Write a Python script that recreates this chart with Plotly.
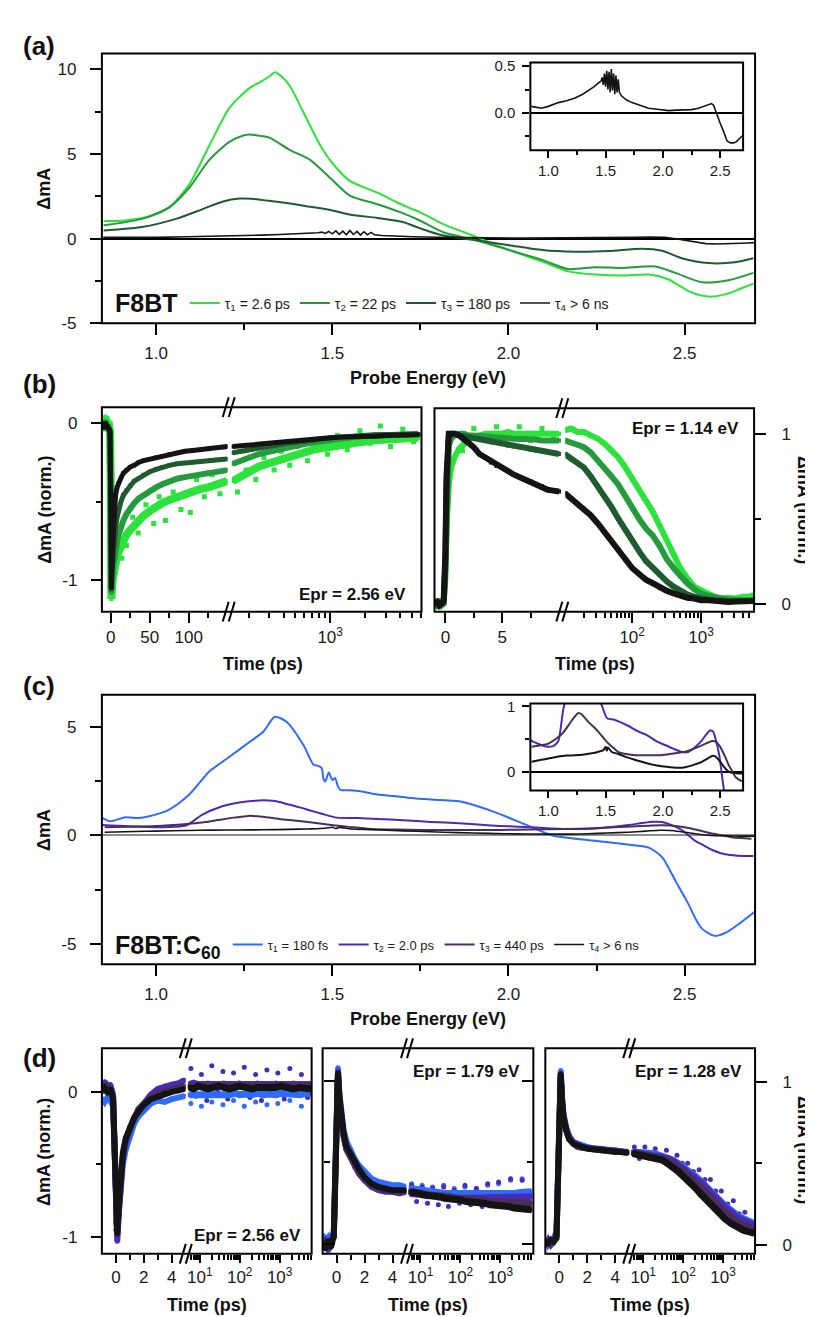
import plotly.graph_objects as go

# ======================= DATA =======================
# (a) F8BT decay-associated spectra (Probe energy eV, dmA)
A_E1 = [0.851, 0.913, 0.98, 1.037, 1.094, 1.151, 1.209, 1.266, 1.30, 1.323, 1.337, 1.36, 1.38, 1.418, 1.466,
        1.504, 1.551, 1.628, 1.685, 1.72, 1.75, 1.813, 1.908, 2.002, 2.096, 2.17, 2.247, 2.323, 2.40, 2.455,
        2.511, 2.545, 2.577, 2.625, 2.66, 2.695]
A_T1 = [1.03, 1.07, 1.3, 1.84, 3.2, 5.5, 7.75, 8.9, 9.3, 9.6, 9.83, 9.5, 9.0, 7.46, 5.5,
        4.36, 3.39, 2.71, 2.13, 1.8, 1.55, 0.87, 0.1, -0.68, -1.36, -1.94, -2.13, -2.19, -2.13, -2.42,
        -3.1, -3.35, -3.43, -3.24, -2.95, -2.66]
A_E2 = [0.851, 0.96, 1.037, 1.094, 1.151, 1.209, 1.25, 1.266, 1.30, 1.323, 1.38, 1.437, 1.494, 1.551, 1.628,
        1.70, 1.75, 1.813, 1.908, 2.002, 2.096, 2.17, 2.247, 2.323, 2.417, 2.474, 2.549, 2.625, 2.695]
A_T2 = [0.78, 1.16, 1.84, 3.0, 4.65, 5.72, 6.1, 6.14, 6.05, 5.95, 5.23, 4.65, 3.58, 2.52, 2.03,
        1.5, 1.05, 0.39, -0.1, -0.68, -1.26, -1.8, -1.69, -1.74, -1.65, -2.03, -2.58, -2.46, -2.03]
A_E3 = [0.851, 0.96, 1.056, 1.132, 1.19, 1.237, 1.27, 1.304, 1.361, 1.437, 1.494, 1.551, 1.628, 1.70, 1.75,
        1.813, 1.908, 2.002, 2.096, 2.19, 2.285, 2.379, 2.436, 2.492, 2.568, 2.643, 2.695]
A_T3 = [0.48, 0.68, 1.16, 1.74, 2.19, 2.36, 2.35, 2.27, 2.13, 1.88, 1.69, 1.41, 1.22, 0.98, 0.6,
        0.19, -0.1, -0.39, -0.68, -0.78, -0.74, -0.6, -0.72, -1.16, -1.45, -1.4, -1.16]
A_E4 = [0.85, 0.94, 1.0, 1.087, 1.16, 1.233, 1.30, 1.35, 1.40, 1.437, 1.46, 1.47, 1.48, 1.49, 1.50, 1.51, 1.52,
        1.53, 1.54, 1.55, 1.56, 1.57, 1.58, 1.59, 1.60, 1.61, 1.62, 1.64, 1.68, 1.73, 1.80, 1.875, 1.95, 2.05,
        2.12, 2.195, 2.25, 2.31, 2.36, 2.40, 2.425, 2.443, 2.47, 2.50, 2.53, 2.56, 2.59, 2.618, 2.64, 2.66,
        2.68, 2.70]
A_T4 = [0.07, 0.05, 0.07, 0.11, 0.13, 0.16, 0.2, 0.24, 0.28, 0.32, 0.34, 0.38, 0.3, 0.42, 0.28, 0.45, 0.25,
        0.44, 0.22, 0.47, 0.24, 0.42, 0.2, 0.4, 0.22, 0.36, 0.22, 0.18, 0.14, 0.11, 0.08, 0.05, 0.04, 0.025,
        0.03, 0.036, 0.035, 0.05, 0.07, 0.09, 0.1, 0.08, 0.0, -0.11, -0.2, -0.3, -0.32, -0.32, -0.31, -0.28,
        -0.26, -0.24]
A_NAMES = ["τ<sub>1</sub> = 2.6 ps", "τ<sub>2</sub> = 22 ps", "τ<sub>3</sub> = 180 ps", "τ<sub>4</sub> > 6 ns"]

# (b) F8BT kinetics, normalised
B_L_TLIN = [-11, -9, -7, -5, -3, -1, 0, 0.3, 0.6, 1, 2, 3, 4, 6, 8, 10, 13, 16, 20, 25, 30, 36, 42, 50, 58,
            66, 75, 85, 95, 105, 115, 125, 135, 145, 149]
B_L_K_LIN = [-0.01, -0.03, 0.0, -0.02, -0.04, -0.05, -0.6, -1.02, -1.05, -0.98, -0.82, -0.68, -0.57, -0.46,
             -0.41, -0.38, -0.35, -0.32, -0.30, -0.28, -0.27, -0.25, -0.24, -0.23, -0.22, -0.21, -0.20, -0.19,
             -0.18, -0.175, -0.17, -0.165, -0.16, -0.155, -0.15]
B_L_G3_LIN = [-0.02, 0.0, -0.03, -0.01, -0.04, -0.06, -0.55, -1.0, -1.06, -1.02, -0.92, -0.84, -0.77, -0.67,
              -0.6, -0.55, -0.5, -0.46, -0.43, -0.40, -0.37, -0.35, -0.33, -0.31, -0.295, -0.28, -0.27, -0.26,
              -0.255, -0.25, -0.245, -0.24, -0.235, -0.23, -0.23]
B_L_G2_LIN = [-0.01, -0.04, 0.01, -0.03, -0.02, -0.07, -0.5, -0.98, -1.08, -1.05, -0.98, -0.92, -0.87, -0.8,
              -0.75, -0.71, -0.66, -0.62, -0.58, -0.54, -0.51, -0.48, -0.46, -0.43, -0.41, -0.39, -0.37,
              -0.355, -0.345, -0.335, -0.325, -0.315, -0.31, -0.30, -0.30]
B_L_G1_LIN = [0.03, -0.01, 0.04, -0.02, 0.01, -0.06, -0.45, -0.95, -1.12, -1.08, -1.02, -0.98, -0.93, -0.88,
              -0.85, -0.82, -0.78, -0.75, -0.71, -0.68, -0.65, -0.62, -0.59, -0.56, -0.53, -0.51, -0.49, -0.47,
              -0.45, -0.43, -0.42, -0.41, -0.39, -0.38, -0.37]
B_L_TLOG = [146, 170, 200, 240, 290, 350, 420, 500, 600, 720, 860, 1000, 1250, 1550, 1900, 2400, 3000, 3700,
            4600, 5700]
B_L_K_LOG = [-0.15, -0.145, -0.14, -0.135, -0.13, -0.125, -0.12, -0.115, -0.11, -0.105, -0.1, -0.095, -0.09,
             -0.09, -0.085, -0.085, -0.08, -0.08, -0.078, -0.075]
B_L_G3_LOG = [-0.19, -0.18, -0.17, -0.16, -0.15, -0.14, -0.13, -0.125, -0.12, -0.11, -0.1, -0.095, -0.09,
              -0.085, -0.08, -0.075, -0.075, -0.07, -0.07, -0.07]
B_L_G2_LOG = [-0.26, -0.24, -0.22, -0.2, -0.185, -0.17, -0.155, -0.145, -0.135, -0.125, -0.115, -0.105, -0.1,
              -0.09, -0.085, -0.08, -0.075, -0.075, -0.07, -0.07]
B_L_G1_LOG = [-0.37, -0.34, -0.31, -0.28, -0.26, -0.24, -0.22, -0.2, -0.19, -0.17, -0.16, -0.15, -0.14, -0.13,
              -0.12, -0.11, -0.105, -0.1, -0.1, -0.095]
# scattered (noisy) light-green points around the fastest trace
B_L_G1S_TLIN = [8, 14, 20, 28, 35, 45, 55, 62, 70, 80, 90, 102, 110, 120, 130, 140]
B_L_G1S_LIN = [-0.74, -0.86, -0.78, -0.6, -0.7, -0.52, -0.64, -0.47, -0.62, -0.44, -0.55, -0.57, -0.36,
               -0.47, -0.33, -0.45]
B_L_G1S_TLOG = [160, 190, 230, 270, 330, 380, 450, 520, 640, 800, 950, 1150, 1400, 1800, 2200, 2700, 3300,
                4200, 5200]
B_L_G1S_LOG = [-0.44, -0.3, -0.36, -0.22, -0.3, -0.18, -0.27, -0.15, -0.24, -0.12, -0.2, -0.08, -0.17, -0.05,
               -0.13, -0.02, -0.15, -0.04, -0.12]

B_R_TLIN = [-0.9, -0.7, -0.5, -0.3, -0.15, 0, 0.1, 0.2, 0.3, 0.5, 0.8, 1.2, 1.6, 2, 2.5, 3, 3.5, 4, 4.5, 5,
            5.5, 6, 6.5, 7, 7.5, 8, 8.5, 9, 9.5, 10]
B_R_K_LIN = [0.0, 0.01, -0.01, 0.0, 0.02, 0.3, 0.75, 0.95, 1.0, 1.0, 1.0, 0.99, 0.97, 0.95, 0.92, 0.88, 0.86,
             0.83, 0.81, 0.8, 0.78, 0.76, 0.745, 0.73, 0.72, 0.70, 0.69, 0.67, 0.665, 0.66]
B_R_G3_LIN = [0.01, -0.01, 0.0, 0.01, 0.0, 0.25, 0.7, 0.92, 0.98, 1.0, 1.0, 0.99, 0.985, 0.98, 0.97, 0.965,
              0.96, 0.95, 0.945, 0.94, 0.93, 0.925, 0.92, 0.915, 0.905, 0.9, 0.895, 0.89, 0.885, 0.88]
B_R_G2_LIN = [0.0, 0.02, -0.01, 0.0, 0.01, 0.2, 0.6, 0.85, 0.93, 0.97, 0.99, 1.0, 1.0, 0.99, 0.99, 0.985,
              0.985, 0.98, 0.98, 0.975, 0.975, 0.97, 0.97, 0.97, 0.965, 0.965, 0.96, 0.96, 0.96, 0.96]
B_R_G1_LIN = [0.01, 0.0, 0.02, -0.01, 0.0, 0.15, 0.45, 0.62, 0.7, 0.8, 0.86, 0.91, 0.94, 0.96, 0.98, 0.99,
              1.0, 1.0, 1.0, 1.0, 1.01, 1.0, 1.0, 1.0, 1.0, 1.0, 1.0, 1.0, 1.0, 1.0]
B_R_TLOG = [10.5, 13, 16, 20, 25, 32, 40, 50, 63, 80, 100, 130, 160, 200, 250, 320, 400, 500, 630, 800, 1000,
            1300, 1600, 2000, 2500, 3200, 4000, 5000, 5800]
B_R_K_LOG = [0.65, 0.62, 0.59, 0.56, 0.52, 0.47, 0.42, 0.37, 0.32, 0.26, 0.21, 0.17, 0.14, 0.12, 0.095,
             0.075, 0.06, 0.045, 0.035, 0.03, 0.02, 0.02, 0.015, 0.01, 0.01, 0.012, 0.014, 0.014, 0.015]
B_R_G3_LOG = [0.88, 0.85, 0.83, 0.80, 0.75, 0.69, 0.63, 0.57, 0.5, 0.43, 0.37, 0.3, 0.25, 0.21, 0.17, 0.13,
              0.1, 0.075, 0.055, 0.04, 0.03, 0.025, 0.02, 0.015, 0.015, 0.015, 0.015, 0.015, 0.015]
B_R_G2_LOG = [0.96, 0.95, 0.935, 0.92, 0.89, 0.84, 0.8, 0.75, 0.7, 0.63, 0.56, 0.49, 0.44, 0.4, 0.34, 0.26,
              0.21, 0.16, 0.12, 0.085, 0.06, 0.045, 0.035, 0.03, 0.025, 0.02, 0.02, 0.02, 0.02]
B_R_G1_LOG = [1.02, 1.03, 1.01, 1.01, 0.99, 0.97, 0.94, 0.9, 0.86, 0.8, 0.74, 0.66, 0.6, 0.54, 0.46, 0.37,
              0.29, 0.21, 0.15, 0.1, 0.08, 0.055, 0.04, 0.03, 0.035, 0.03, 0.04, 0.04, 0.05]
B_R_G1S_T = [1.5, 2.5, 3.5, 4.5, 5.5, 6.5, 7.5, 8.5, 9.5]
B_R_G1S = [0.9, 1.03, 0.96, 1.04, 0.97, 1.04, 0.96, 1.03, 0.97]

# (c) F8BT:C60 decay-associated spectra
C_E1 = [0.847, 0.87, 0.913, 0.95, 0.98, 1.037, 1.094, 1.151, 1.209, 1.266, 1.304, 1.337, 1.37, 1.418, 1.447,
        1.46, 1.47, 1.475, 1.48, 1.49, 1.5, 1.508, 1.515, 1.523, 1.55, 1.58, 1.628, 1.68, 1.723, 1.78, 1.86,
        1.955, 2.049, 2.125, 2.238, 2.332, 2.398, 2.436, 2.474, 2.511, 2.53, 2.55, 2.585, 2.62, 2.66, 2.70]
C_T1 = [0.81, 0.65, 0.84, 0.8, 0.88, 1.19, 1.88, 2.94, 3.63, 4.31, 4.77, 5.46, 5.23, 4.16, 3.25,
        3.2, 3.09, 2.6, 2.48, 2.9, 2.55, 2.64, 2.3, 2.1, 2.08, 2.03, 1.88, 1.8, 1.72, 1.65, 1.57,
        1.11, 0.5, 0.0, -0.23, -0.41, -0.56, -1.0, -2.09, -3.16, -3.8, -4.3, -4.62, -4.45, -4.0, -3.5]
C_E2 = [0.847, 0.92, 1.0, 1.05, 1.087, 1.13, 1.18, 1.228, 1.27, 1.304, 1.337, 1.37, 1.41, 1.437, 1.47, 1.513,
        1.57, 1.628, 1.70, 1.78, 1.86, 1.95, 2.002, 2.08, 2.166, 2.22, 2.285, 2.34, 2.379, 2.41, 2.436, 2.46,
        2.492, 2.53, 2.549, 2.58, 2.615, 2.65, 2.695]
C_T2 = [0.48, 0.42, 0.38, 0.4, 0.47, 0.95, 1.3, 1.49, 1.58, 1.62, 1.58, 1.45, 1.28, 1.15, 1.0, 0.82,
        0.8, 0.76, 0.7, 0.62, 0.56, 0.46, 0.42, 0.36, 0.30, 0.3, 0.38, 0.48, 0.57, 0.63, 0.62, 0.5,
        0.25, -0.25, -0.41, -0.68, -0.87, -0.93, -0.95]
C_E3 = [0.854, 0.92, 1.0, 1.087, 1.13, 1.175, 1.22, 1.262, 1.29, 1.35, 1.40, 1.437, 1.48, 1.525, 1.57, 1.612,
        1.68, 1.758, 1.85, 1.933, 2.02, 2.108, 2.2, 2.283, 2.35, 2.40, 2.43, 2.46, 2.50, 2.54, 2.574, 2.60,
        2.633, 2.66, 2.69]
C_T3 = [0.38, 0.4, 0.43, 0.53, 0.6, 0.71, 0.82, 0.9, 0.88, 0.76, 0.68, 0.61, 0.52, 0.43, 0.36, 0.30,
        0.27, 0.25, 0.25, 0.25, 0.26, 0.28, 0.31, 0.36, 0.41, 0.45, 0.47, 0.46, 0.38, 0.24, 0.10, 0.02,
        -0.08, -0.12, -0.15]
C_E4 = [0.854, 0.94, 1.0, 1.087, 1.16, 1.233, 1.30, 1.379, 1.43, 1.48, 1.50, 1.51, 1.52, 1.554, 1.61, 1.67,
        1.74, 1.816, 1.9, 1.99, 2.05, 2.108, 2.17, 2.225, 2.28, 2.34, 2.39, 2.43, 2.46, 2.487, 2.53, 2.574,
        2.62, 2.66, 2.70]
C_T4 = [0.15, 0.18, 0.2, 0.23, 0.245, 0.25, 0.26, 0.28, 0.3, 0.33, 0.38, 0.32, 0.37, 0.30, 0.27, 0.23,
        0.19, 0.15, 0.11, 0.08, 0.07, 0.06, 0.06, 0.08, 0.11, 0.15, 0.2, 0.24, 0.23, 0.18, 0.08, 0.0,
        -0.02, -0.03, -0.03]
C_NAMES = ["τ<sub>1</sub> = 180 fs", "τ<sub>2</sub> = 2.0 ps", "τ<sub>3</sub> = 440 ps", "τ<sub>4</sub> > 6 ns"]

# (d) F8BT:C60 kinetics, normalised
D_TLIN = [-0.95, -0.8, -0.6, -0.4, -0.2, -0.1, 0, 0.1, 0.2, 0.3, 0.5, 0.7, 1.0, 1.3, 1.6, 2.0, 2.5, 3.0, 3.5,
          4.0, 4.5, 4.9]
D_TLOG = [5.5, 7, 9, 12, 16, 22, 30, 40, 55, 75, 100, 140, 200, 280, 400, 560, 800, 1100, 1600, 2200, 3200,
          4500, 6000]
D_TSCAT = [6, 8, 11, 15, 20, 28, 38, 50, 70, 95, 130, 180, 250, 350, 480, 650, 900, 1300, 1800, 2500, 3500,
           5000]
# Epr = 2.56 eV
D1_BL_LIN = [-0.05, -0.07, -0.04, -0.06, -0.1, -0.5, -0.92, -0.98, -0.84, -0.7, -0.5, -0.4, -0.3, -0.22,
             -0.17, -0.13, -0.08, -0.06, -0.07, -0.05, -0.04, -0.03]
D1_VI_LIN = [0.04, 0.07, 0.03, 0.05, -0.02, -0.45, -0.95, -1.03, -0.85, -0.66, -0.45, -0.35, -0.25, -0.19,
             -0.12, -0.08, -0.02, 0.02, 0.04, 0.05, 0.06, 0.08]
D1_PU_LIN = [0.03, 0.0, 0.05, 0.02, -0.03, -0.42, -0.88, -0.96, -0.8, -0.64, -0.44, -0.34, -0.25, -0.18,
             -0.13, -0.09, -0.04, -0.01, 0.01, 0.02, 0.03, 0.04]
D1_K_LIN = [0.02, 0.03, 0.0, 0.02, -0.05, -0.4, -0.9, -0.98, -0.8, -0.63, -0.42, -0.32, -0.24, -0.18, -0.14,
            -0.09, -0.05, -0.03, -0.01, 0.0, 0.01, 0.02]
D1_BL_LOG = [-0.02, -0.02, -0.025, -0.02, -0.015, -0.02, -0.02, -0.015, -0.02, -0.01, -0.02, -0.015, -0.02,
             -0.01, -0.02, -0.015, -0.02, -0.01, -0.015, -0.01, -0.02, -0.01, -0.01]
D1_VI_LOG = [0.05, 0.06, 0.05, 0.05, 0.06, 0.05, 0.05, 0.06, 0.05, 0.05, 0.06, 0.05, 0.05, 0.06, 0.05, 0.05,
             0.06, 0.05, 0.05, 0.06, 0.05, 0.05, 0.05]
D1_PU_LOG = [0.04, 0.04, 0.045, 0.04, 0.045, 0.04, 0.045, 0.04, 0.04, 0.04, 0.045, 0.04, 0.04, 0.04, 0.045,
             0.04, 0.04, 0.04, 0.045, 0.04, 0.04, 0.04, 0.04]
D1_K_LOG = [0.03, 0.02, 0.04, 0.03, 0.02, 0.03, 0.04, 0.03, 0.02, 0.03, 0.04, 0.03, 0.02, 0.03, 0.03, 0.02,
            0.03, 0.04, 0.03, 0.02, 0.03, 0.03, 0.02]
D1_VI_SCAT = [0.16, -0.03, 0.12, -0.06, 0.18, 0.0, 0.14, -0.05, 0.13, -0.02, 0.17, -0.04, 0.12, -0.06, 0.15,
              0.0, 0.13, -0.05, 0.16, -0.02, 0.12, -0.04]
D1_BL_SCAT = [-0.08, 0.04, -0.1, 0.02, -0.07, 0.05, -0.09, 0.03, -0.06, 0.06, -0.1, 0.02, -0.07, 0.04, -0.09,
              0.05, -0.08, 0.03, -0.06, 0.04, -0.1, 0.02]
# Epr = 1.79 eV
D2_BL_LIN = [0.05, 0.02, 0.04, 0.0, 0.08, 0.45, 1.0, 1.08, 0.92, 0.82, 0.7, 0.63, 0.57, 0.52, 0.48, 0.44,
             0.4, 0.38, 0.37, 0.36, 0.36, 0.35]
D2_VI_LIN = [-0.02, 0.03, -0.04, 0.02, 0.06, 0.42, 0.98, 1.06, 0.9, 0.78, 0.66, 0.58, 0.53, 0.47, 0.43,
             0.39, 0.35, 0.33, 0.32, 0.32, 0.31, 0.32]
D2_PU_LIN = [0.02, -0.01, 0.01, 0.03, 0.04, 0.35, 0.92, 1.02, 0.88, 0.78, 0.66, 0.58, 0.53, 0.48, 0.44,
             0.4, 0.36, 0.34, 0.33, 0.32, 0.32, 0.32]
D2_K_LIN = [0.0, -0.03, 0.02, -0.02, 0.05, 0.4, 0.95, 1.05, 0.9, 0.8, 0.68, 0.6, 0.55, 0.5, 0.46, 0.41,
            0.37, 0.35, 0.34, 0.33, 0.33, 0.33]
D2_BL_LOG = [0.34, 0.335, 0.33, 0.325, 0.32, 0.315, 0.315, 0.31, 0.31, 0.305, 0.305, 0.3, 0.3, 0.3, 0.3,
             0.3, 0.305, 0.305, 0.31, 0.31, 0.315, 0.315, 0.32]
D2_VI_LOG = [0.31, 0.31, 0.305, 0.3, 0.3, 0.295, 0.29, 0.29, 0.285, 0.285, 0.28, 0.28, 0.28, 0.28, 0.28, 0.28,
             0.285, 0.285, 0.29, 0.29, 0.29, 0.29, 0.29]
D2_PU_LOG = [0.32, 0.32, 0.31, 0.31, 0.3, 0.3, 0.29, 0.29, 0.29, 0.28, 0.28, 0.28, 0.27, 0.27, 0.27, 0.26,
             0.26, 0.26, 0.26, 0.25, 0.25, 0.25, 0.25]
D2_K_LOG = [0.32, 0.31, 0.31, 0.3, 0.3, 0.29, 0.29, 0.28, 0.28, 0.27, 0.27, 0.26, 0.26, 0.25, 0.25, 0.24,
            0.24, 0.23, 0.23, 0.22, 0.22, 0.21, 0.21]
D2_VI_SCAT = [0.36, 0.26, 0.35, 0.25, 0.34, 0.24, 0.35, 0.23, 0.33, 0.25, 0.36, 0.24, 0.34, 0.23, 0.37, 0.25,
              0.38, 0.24, 0.4, 0.25, 0.39, 0.27]
D2_BL_SCAT = [0.37, 0.3, 0.36, 0.29, 0.35, 0.28, 0.36, 0.28, 0.34, 0.29, 0.35, 0.28, 0.34, 0.27, 0.36, 0.28,
              0.37, 0.29, 0.39, 0.3, 0.4, 0.3]
# Epr = 1.28 eV
D3_BL_LIN = [0.03, 0.0, 0.02, 0.04, 0.08, 0.5, 1.0, 1.07, 0.9, 0.8, 0.72, 0.67, 0.63, 0.62, 0.61, 0.6, 0.59,
             0.59, 0.58, 0.58, 0.57, 0.57]
D3_VI_LIN = [0.01, 0.03, 0.0, 0.02, 0.06, 0.45, 0.97, 1.05, 0.89, 0.79, 0.71, 0.66, 0.63, 0.61, 0.6, 0.595,
             0.59, 0.585, 0.58, 0.575, 0.575, 0.57]
D3_PU_LIN = [0.0, 0.02, 0.01, 0.03, 0.04, 0.38, 0.93, 1.03, 0.87, 0.78, 0.7, 0.65, 0.62, 0.6, 0.595, 0.59,
             0.585, 0.58, 0.575, 0.57, 0.57, 0.565]
D3_K_LIN = [0.02, 0.01, 0.03, 0.02, 0.05, 0.4, 0.95, 1.05, 0.88, 0.78, 0.7, 0.65, 0.62, 0.61, 0.6, 0.59,
            0.585, 0.58, 0.575, 0.57, 0.57, 0.565]
D3_BL_LOG = [0.57, 0.57, 0.565, 0.56, 0.56, 0.555, 0.545, 0.535, 0.52, 0.5, 0.48, 0.455, 0.42, 0.39, 0.35,
             0.31, 0.27, 0.24, 0.21, 0.18, 0.16, 0.14, 0.13]
D3_VI_LOG = [0.57, 0.565, 0.56, 0.56, 0.555, 0.55, 0.54, 0.53, 0.515, 0.49, 0.47, 0.44, 0.41, 0.38, 0.34,
             0.3, 0.26, 0.23, 0.2, 0.17, 0.15, 0.13, 0.12]
D3_PU_LOG = [0.565, 0.56, 0.555, 0.55, 0.545, 0.54, 0.53, 0.515, 0.5, 0.475, 0.45, 0.42, 0.39, 0.35, 0.31,
             0.27, 0.23, 0.2, 0.17, 0.14, 0.12, 0.11, 0.1]
D3_K_LOG = [0.56, 0.555, 0.55, 0.545, 0.54, 0.53, 0.52, 0.5, 0.48, 0.45, 0.42, 0.39, 0.35, 0.31, 0.27, 0.23,
            0.19, 0.16, 0.13, 0.11, 0.09, 0.08, 0.07]
D3_VI_SCAT = [0.6, 0.53, 0.6, 0.53, 0.59, 0.52, 0.58, 0.51, 0.55, 0.5, 0.5, 0.45, 0.46, 0.4, 0.4, 0.33, 0.33,
              0.25, 0.27, 0.19, 0.2, 0.14]

# ======================= STYLE / LAYOUT =======================
W, H = 813, 1317
FONT = "Liberation Sans, Arial, sans-serif"


def fx(p):
    return p / W


def fy(p):
    return 1 - p / H


G1, G2, G3, K = "#2BE33A", "#249B3D", "#1F5B2F", "#141414"
BL, VI, PU = "#2F6BFF", "#4A2BB5", "#4B2E5C"

fig = go.Figure()


def spec(x, y, color, xa, ya, width=2, name=None, legend=None, show=False, smooth=True):
    fig.add_trace(go.Scatter(x=x, y=y, mode="lines",
                             line=dict(color=color, width=width, shape="spline" if smooth else "linear",
                                       smoothing=0.7),
                             xaxis=xa, yaxis=ya, name=name, legend=legend, showlegend=show,
                             hoverinfo="skip"))


def kin(x, y, color, xa, ya, sym="square", lw=4, ms=4):
    fig.add_trace(go.Scatter(x=x, y=y, mode="lines+markers", line=dict(color=color, width=lw),
                             marker=dict(color=color, size=ms, symbol=sym, line=dict(width=0)),
                             xaxis=xa, yaxis=ya, showlegend=False, hoverinfo="skip"))


def dots(x, y, color, xa, ya, sym="square", ms=4):
    fig.add_trace(go.Scatter(x=x, y=y, mode="markers",
                             marker=dict(color=color, size=ms, symbol=sym, line=dict(width=0)),
                             xaxis=xa, yaxis=ya, showlegend=False, hoverinfo="skip"))


# (a)
for e, v, c, n in zip([A_E1, A_E2, A_E3, A_E4], [A_T1, A_T2, A_T3, A_T4], [G1, G2, G3, K], A_NAMES):
    spec(e, v, c, "x", "y", width=2 if c != K else 1.6, name=n, legend="legend", show=True, smooth=(c != K))
spec(A_E4, A_T4, K, "x2", "y2", width=1.6, smooth=False)

# (b)
dots(B_L_G1S_TLIN, B_L_G1S_LIN, G1, "x3", "y3", ms=5)
dots(B_L_G1S_TLOG, B_L_G1S_LOG, G1, "x4", "y3", ms=5)
for tl, vl, tg, vg, c, w in [
    (B_L_TLIN, B_L_G1_LIN, B_L_TLOG, B_L_G1_LOG, G1, 8),
    (B_L_TLIN, B_L_G2_LIN, B_L_TLOG, B_L_G2_LOG, G2, 6),
    (B_L_TLIN, B_L_G3_LIN, B_L_TLOG, B_L_G3_LOG, G3, 5),
    (B_L_TLIN, B_L_K_LIN, B_L_TLOG, B_L_K_LOG, K, 5),
]:
    kin(tl, vl, c, "x3", "y3", lw=w)
    kin(tg, vg, c, "x4", "y3", lw=w)
dots(B_R_G1S_T, B_R_G1S, G1, "x5", "y4", ms=5)
for tl, vl, tg, vg, c in [
    (B_R_TLIN, B_R_G1_LIN, B_R_TLOG, B_R_G1_LOG, G1),
    (B_R_TLIN, B_R_G2_LIN, B_R_TLOG, B_R_G2_LOG, G2),
    (B_R_TLIN, B_R_G3_LIN, B_R_TLOG, B_R_G3_LOG, G3),
    (B_R_TLIN, B_R_K_LIN, B_R_TLOG, B_R_K_LOG, K),
]:
    kin(tl, vl, c, "x5", "y4", lw=6)
    kin(tg, vg, c, "x6", "y4", lw=6)

# (c)
for e, v, c, n in zip([C_E1, C_E2, C_E3, C_E4], [C_T1, C_T2, C_T3, C_T4], [BL, VI, PU, K], C_NAMES):
    spec(e, v, c, "x7", "y5", width=2 if c != K else 1.6, name=n, legend="legend2", show=True)
for e, v, c in zip([C_E2, C_E3, C_E4], [C_T2, C_T3, C_T4], [VI, PU, K]):
    spec(e, v, c, "x8", "y6", width=2)

# (d)
dots(D_TSCAT, D1_BL_SCAT, BL, "x10", "y7", sym="circle", ms=5)
dots(D_TSCAT, D1_VI_SCAT, VI, "x10", "y7", sym="circle", ms=5)
dots(D_TSCAT, D2_BL_SCAT, BL, "x12", "y8", sym="circle", ms=5)
dots(D_TSCAT, D2_VI_SCAT, VI, "x12", "y8", sym="circle", ms=5)
dots(D_TSCAT, D3_VI_SCAT, VI, "x14", "y10", sym="circle", ms=5)
D_SETS = [
    ("x9", "x10", "y7", [(D1_BL_LIN, D1_BL_LOG, BL), (D1_VI_LIN, D1_VI_LOG, VI), (D1_PU_LIN, D1_PU_LOG, PU),
                         (D1_K_LIN, D1_K_LOG, K)]),
    ("x11", "x12", "y8", [(D2_BL_LIN, D2_BL_LOG, BL), (D2_VI_LIN, D2_VI_LOG, VI), (D2_PU_LIN, D2_PU_LOG, PU),
                          (D2_K_LIN, D2_K_LOG, K)]),
    ("x13", "x14", "y10", [(D3_BL_LIN, D3_BL_LOG, BL), (D3_VI_LIN, D3_VI_LOG, VI),
                           (D3_PU_LIN, D3_PU_LOG, PU), (D3_K_LIN, D3_K_LOG, K)]),
]
for xl, xg, ya, series in D_SETS:
    for vl, vg, c in series:
        kin(D_TLIN, vl, c, xl, ya, sym="circle", lw=6, ms=5)
        kin(D_TLOG, vg, c, xg, ya, sym="circle", lw=7, ms=5)
# empty trace so that the mirrored right-hand tick axis of middle (d) panel is drawn
fig.add_trace(go.Scatter(x=[], y=[], xaxis="x11", yaxis="y9", showlegend=False, hoverinfo="skip"))

TICKF = dict(family=FONT, size=17, color="#1a1a1a")
INF = dict(family=FONT, size=15, color="#1a1a1a")


def axis(domain, rng, anchor, vals=None, text=None, minor=None, typ="linear", ticks="outside", tlen=11,
         mlen=6, font=TICKF, **kw):
    d = dict(domain=domain, range=rng, anchor=anchor, type=typ, showgrid=False, zeroline=False,
             showline=False, ticks=ticks, ticklen=tlen, tickwidth=1.5, tickcolor="black", tickfont=font,
             tickmode="array", tickvals=vals or [], ticktext=text or [], fixedrange=True)
    if minor:
        d["minor"] = dict(tickmode="array", tickvals=minor, ticks=ticks, ticklen=mlen, tickwidth=1.5,
                          tickcolor="black")
    d.update(kw)
    return d


EV = [1.0, 1.5, 2.0, 2.5]
EVT = ["1.0", "1.5", "2.0", "2.5"]
EVM = [1.25, 1.75, 2.25]
LOGMIN_B = [200, 300, 400, 500, 600, 700, 800, 900, 2000, 3000, 4000, 5000, 6000]
LOGMIN_BR = [20, 30, 40, 50, 60, 70, 80, 90, 200, 300, 400, 500, 600, 700, 800, 900, 2000, 3000, 4000, 5000]
LOGMIN_D = [6, 7, 8, 9, 20, 30, 40, 50, 60, 70, 80, 90, 200, 300, 400, 500, 600, 700, 800, 900, 2000, 3000,
            4000, 5000, 6000]
SUP = ["10<sup>1</sup>", "10<sup>2</sup>", "10<sup>3</sup>"]

lay = dict(width=W, height=H, margin=dict(l=0, r=0, t=0, b=0), paper_bgcolor="white",
           plot_bgcolor="rgba(0,0,0,0)", font=dict(family=FONT, size=16, color="#1a1a1a"))

YSO = 10   # left y tick-label standoff
# (a)
lay["xaxis"] = axis([fx(93), fx(747)], [0.846, 2.70], "y", EV, EVT, EVM, ticklabelstandoff=3)
lay["yaxis"] = axis([fy(313), fy(40)], [-5, 10.93], "x", [-5, 0, 5, 10], ["-5", "0", "5", "10"],
                    [-2.5, 2.5, 7.5], zeroline=True, zerolinecolor="black", zerolinewidth=2,
                    ticklabelstandoff=YSO)
lay["xaxis2"] = axis([fx(522), fx(735)], [0.843, 2.70], "y2", EV, EVT, EVM, tlen=7, mlen=4, font=INF)
lay["yaxis2"] = axis([fy(138), fy(49)], [-0.40, 0.54], "x2", [0, 0.5], ["0.0", "0.5"], [-0.25, 0.25],
                     tlen=7, mlen=4, font=INF, zeroline=True, zerolinecolor="black", zerolinewidth=1.5,
                     ticklabelstandoff=4)
# (b)
lay["xaxis3"] = axis([fx(93), fx(219)], [-11.5, 150], "y3", [0, 50, 100], ["0", "50", "100"],
                     [25, 75, 125], tlen=10, mlen=5)
lay["xaxis4"] = axis([fx(223), fx(413)], [2.155, 3.784], "y3", [1000], ["10<sup>3</sup>"], LOGMIN_B,
                     typ="log", tlen=10, mlen=5)
lay["yaxis3"] = axis([fy(605), fy(398)], [-1.2, 0.1], "free", [-1, 0], ["-1", "0"], [-0.5],
                     position=fx(93), ticklabelstandoff=YSO)
lay["xaxis5"] = axis([fx(426), fx(553)], [-0.96, 10.2], "y4", [0, 5], ["0", "5"], [2.5, 7.5], tlen=10,
                     mlen=5)
lay["xaxis6"] = axis([fx(557), fx(746)], [1.03, 3.77], "y4", [100, 1000], SUP[1:], LOGMIN_BR, typ="log",
                     tlen=10, mlen=5)
lay["yaxis4"] = axis([fy(605), fy(399)], [-0.047, 1.15], "free", [0, 1], ["0", "1"], [0.5], side="right",
                     position=fx(746), ticklabelstandoff=12)
# (c)
lay["xaxis7"] = axis([fx(93), fx(747)], [0.846, 2.70], "y5", EV, EVT, EVM, ticklabelstandoff=3)
lay["yaxis5"] = axis([fy(962), fy(689)], [-5.93, 6.48], "x7", [-5, 0, 5], ["-5", "0", "5"], [-2.5, 2.5],
                     zeroline=True, zerolinecolor="#8c8c8c", zerolinewidth=1.5, ticklabelstandoff=YSO)
lay["xaxis8"] = axis([fx(522), fx(735)], [0.843, 2.70], "y6", EV, EVT, EVM, tlen=7, mlen=4, font=INF)
lay["yaxis6"] = axis([fy(786), fy(698)], [-0.29, 1.045], "x8", [0, 1], ["0", "1"], [0.5], tlen=7, mlen=4,
                     font=INF, zeroline=True, zerolinecolor="black", zerolinewidth=1.5, ticklabelstandoff=4)
# (d)
for i, L in enumerate([93, 314, 537]):
    ya = ["y7", "y8", "y10"][i]
    lay["xaxis%d" % (9 + 2 * i)] = axis([fx(L), fx(L + 84)], [-1.0, 5.0], ya, [0, 2, 4], ["0", "2", "4"],
                                        [1, 3], tlen=8, mlen=5)
    lay["xaxis%d" % (10 + 2 * i)] = axis([fx(L + 86), fx(L + 210)], [0.7, 3.8], ya, [10, 100, 1000], SUP,
                                         LOGMIN_D, typ="log", tlen=8, mlen=5)
DDOM = [fy(1255), fy(1047)]
lay["yaxis7"] = axis(DDOM, [-1.116, 0.30], "free", [-1, 0], ["-1", "0"], [-0.5], position=fx(93),
                     ticklabelstandoff=YSO)
lay["yaxis8"] = axis(DDOM, [-0.06, 1.2], "free", [0, 1], ["", ""], [0.5], position=fx(314), ticks="inside",
                     showticklabels=False)
lay["yaxis9"] = axis(DDOM, [-0.06, 1.2], "free", [0, 1], ["", ""], [0.5], position=fx(525), ticks="inside",
                     showticklabels=False, side="right", overlaying="y8")
lay["yaxis10"] = axis(DDOM, [-0.055, 1.206], "free", [0, 1], ["0", "1"], [0.5], side="right",
                      position=fx(747), ticklabelstandoff=12)

# legends
lay["legend"] = dict(orientation="h", x=fx(176), y=fy(293), xanchor="left", yanchor="middle",
                     bgcolor="rgba(0,0,0,0)", font=dict(family=FONT, size=14, color="#1a1a1a"),
                     itemwidth=30, tracegroupgap=0)
lay["legend2"] = dict(orientation="h", x=fx(219), y=fy(942), xanchor="left", yanchor="middle",
                      bgcolor="rgba(0,0,0,0)", font=dict(family=FONT, size=13, color="#1a1a1a"),
                      itemwidth=30, tracegroupgap=0)

# frames and axis-break marks
shapes = []
for (x0, y0, x1, y1) in [(93, 40, 747, 313), (522, 49, 735, 138), (93, 398, 413, 605), (426, 399, 746, 605),
                         (93, 689, 747, 962), (522, 698, 735, 786), (93, 1047, 303, 1255),
                         (314, 1047, 525, 1255), (537, 1047, 747, 1255)]:
    shapes.append(dict(type="rect", xref="paper", yref="paper", x0=fx(x0), x1=fx(x1), y0=fy(y0), y1=fy(y1),
                       line=dict(color="black", width=2), fillcolor="rgba(0,0,0,0)", layer="above"))
for cx, ys in [(221, (398, 605)), (555, (399, 605)), (178, (1047, 1255)), (399.5, (1047, 1255)),
               (622, (1047, 1255))]:
    for yy in ys:
        for dx in (-4, 2):
            shapes.append(dict(type="line", xref="paper", yref="paper", x0=fx(cx + dx - 3), y0=fy(yy + 10),
                               x1=fx(cx + dx + 3), y1=fy(yy - 10), line=dict(color="black", width=2),
                               layer="above"))
lay["shapes"] = shapes

ann = []


def text(t, px, py, size=18, bold=True, angle=0, xanchor="center"):
    ann.append(dict(text="<b>%s</b>" % t if bold else t, x=fx(px), y=fy(py), xref="paper", yref="paper",
                    showarrow=False, textangle=angle, xanchor=xanchor, yanchor="middle",
                    font=dict(family=FONT, size=size, color="#111")))


text("(a)", 12, 32, 26, xanchor="left")
text("(b)", 12, 375, 26, xanchor="left")
text("(c)", 12, 680, 26, xanchor="left")
text("(d)", 12, 1057, 26, xanchor="left")
text("ΔmA", 35, 177, angle=-90)
text("Probe Energy (eV)", 420, 368)
text("F8BT", 104, 293, 25, xanchor="left")
text("ΔmA (norm.)", 36, 502, angle=-90)
text("ΔmA (norm.)", 796, 502, angle=90)
text("Epr = 2.56 eV", 344, 588, 17)
text("Epr = 1.14 eV", 677, 420, 17)
text("Time (ps)", 254, 658)
text("Time (ps)", 587, 658)
text("ΔmA", 35, 826, angle=-90)
text("Probe Energy (eV)", 420, 1017)
text("F8BT:C<sub>60</sub>", 104, 944, 25, xanchor="left")
text("ΔmA (norm.)", 35, 1152, angle=-90)
text("ΔmA (norm.)", 796, 1150, angle=90)
text("Epr = 2.56 eV", 239, 1237, 17)
text("Epr = 1.79 eV", 458, 1070, 17)
text("Epr = 1.28 eV", 680, 1070, 17)
text("Time (ps)", 198, 1307)
text("Time (ps)", 420, 1307)
text("Time (ps)", 642, 1307)
lay["annotations"] = ann

fig.update_layout(**lay)
fig.write_html("out.html")
